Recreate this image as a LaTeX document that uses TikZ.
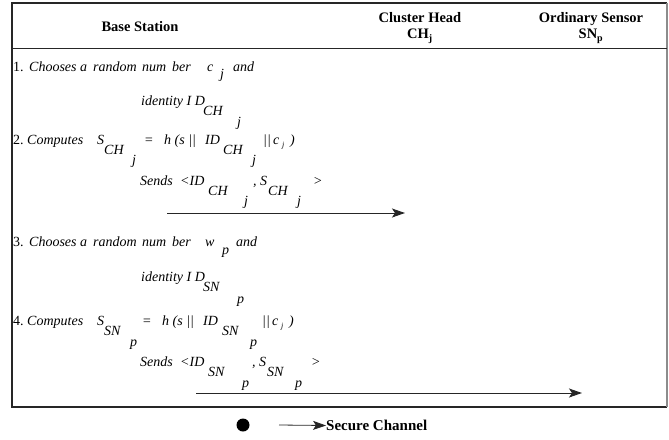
\documentclass[tikz,border=0pt]{standalone}
\usepackage{fontspec}
\setmainfont{Liberation Serif}
\usetikzlibrary{arrows.meta}
\tikzset{
  frame/.style={draw=black!85, line width=1.1pt},
  head/.style={font=\fontsize{14.5}{16}\selectfont\bfseries, inner sep=0pt, align=center},
  txt/.style={font=\fontsize{14}{16}\selectfont\itshape, anchor=base west, inner sep=0pt},
  num/.style={font=\fontsize{14}{16}\selectfont, anchor=base west, inner sep=0pt},
  tiny/.style={font=\fontsize{8}{9}\selectfont\itshape, anchor=base west, inner sep=0pt},
  msg/.style={draw=black!85, line width=1pt, -{Stealth[length=13pt,width=9pt,inset=3pt]}},
}
\begin{document}
\begin{tikzpicture}[x=1pt,y=-1pt]
\useasboundingbox (0,0) rectangle (669,439);
% outer frame (right edge lighter) and header rule
\draw[frame] (667,407) -- (12,407) -- (12,3) -- (667,3);
\draw[frame, draw=black!45] (667,3) -- (667,407);
\draw[frame, line width=1.6pt] (12,48.5) -- (667,48.5);
% header
\node[head] (bs) at (140,27) {Base Station};
\node[head] (ch) at (420,28) {Cluster Head\\[0pt]CH\textsubscript{\fontsize{10}{11}\selectfont j}};
\node[head] (sn) at (591,28) {Ordinary Sensor\\[0pt]SN\textsubscript{\fontsize{10}{11}\selectfont p}};

% step 1: c_j and the identity of the cluster head
\node[num] (n1) at (13,71) {1.};
\node[txt] (t1a) at (29,71) {Chooses a};
\node[txt] (t1b) at (93,71) {random};
\node[txt] (t1c) at (142,71) {num};
\node[txt] (t1d) at (172,71) {ber};
\node[txt] (t1e) at (207,71) {c};
\node[txt] (t1f) at (220,78) {j};
\node[txt] (t1g) at (233,71) {and};
\node[txt] (i1a) at (141,105) {identity I D};
\node[txt] (i1b) at (203,115) {CH};
\node[txt] (i1c) at (237,126) {j};

% step 2: secret value of the cluster head
\node[num] (n2) at (13,144) {2.};
\node[txt] (t2a) at (27,144) {Computes};
\node[txt] (t2b) at (97,144) {S};
\node[txt] (t2c) at (104,154) {CH};
\node[txt] (t2d) at (132,164) {j};
\node[txt] (t2e) at (144,144) {=};
\node[txt] (t2f) at (164,144) {h (s ||};
\node[txt] (t2g) at (205,144) {ID};
\node[txt] (t2h) at (223,154) {CH};
\node[txt] (t2i) at (252,164) {j};
\node[txt] (t2j) at (263,144) {||};
\node[txt] (t2k) at (273,144) {c};
\node[tiny] (t2l) at (282,147) {j};
\node[txt] (t2m) at (290,144) {)};
\node[txt] (s1a) at (140,185) {Sends};
\node[txt] (s1b) at (180,185) {<ID};
\node[txt] (s1c) at (208,195) {CH};
\node[txt] (s1d) at (244,205) {j};
\node[txt] (s1e) at (253,185) {,};
\node[txt] (s1f) at (260,185) {S};
\node[txt] (s1g) at (268,195) {CH};
\node[txt] (s1h) at (297,205) {j};
\node[txt] (s1i) at (313,185) {>};
\coordinate (m1s) at (167,213);
\coordinate (m1e) at (405,213);
\draw[msg] (m1s) -- (m1e);

% step 3: w_p and the identity of the sensor
\node[num] (n3) at (13,246) {3.};
\node[txt] (t3a) at (29,246) {Chooses a};
\node[txt] (t3b) at (93,246) {random};
\node[txt] (t3c) at (142,246) {num};
\node[txt] (t3d) at (172,246) {ber};
\node[txt] (t3e) at (205,246) {w};
\node[txt] (t3f) at (222,254) {p};
\node[txt] (t3g) at (236,246) {and};
\node[txt] (i3a) at (141,281) {identity I D};
\node[txt] (i3b) at (203,291) {SN};
\node[txt] (i3c) at (237,303) {p};

% step 4: secret value of the sensor
\node[num] (n4) at (13,325) {4.};
\node[txt] (t4a) at (27,325) {Computes};
\node[txt] (t4b) at (97,325) {S};
\node[txt] (t4c) at (104,335) {SN};
\node[txt] (t4d) at (130,346) {p};
\node[txt] (t4e) at (142,325) {=};
\node[txt] (t4f) at (162,325) {h (s ||};
\node[txt] (t4g) at (203,325) {ID};
\node[txt] (t4h) at (222,335) {SN};
\node[txt] (t4i) at (250,346) {p};
\node[txt] (t4j) at (262,325) {||};
\node[txt] (t4k) at (272,325) {c};
\node[tiny] (t4l) at (281,328) {j};
\node[txt] (t4m) at (289,325) {)};
\node[txt] (s2a) at (140,366) {Sends};
\node[txt] (s2b) at (180,366) {<ID};
\node[txt] (s2c) at (208,376) {SN};
\node[txt] (s2d) at (242,387) {p};
\node[txt] (s2e) at (252,366) {,};
\node[txt] (s2f) at (259,366) {S};
\node[txt] (s2g) at (267,376) {SN};
\node[txt] (s2h) at (295,387) {p};
\node[txt] (s2i) at (311,366) {>};
\coordinate (m2s) at (196,393);
\coordinate (m2e) at (582,393);
\draw[msg] (m2s) -- (m2e);

% legend
\node[circle, fill=black, minimum size=13pt, inner sep=0pt] (dot) at (243,425) {};
\node[font=\fontsize{15}{17}\selectfont\bfseries, anchor=west, inner sep=0pt] (sec) at (326,425.5) {Secure Channel};
\coordinate (legs) at (279,425);
\draw[msg, line width=0.8pt] (legs) -- (sec.west);
\end{tikzpicture}
\end{document}
